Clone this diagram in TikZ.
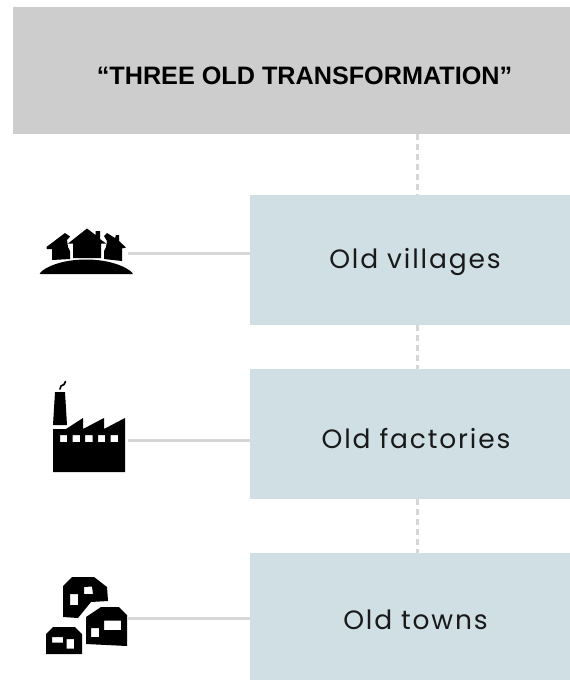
\documentclass[tikz,border=0pt]{standalone}
\usepackage{fontspec}
\setmainfont{Liberation Sans}
\newfontfamily\boxfont[LetterSpace=7]{Poppins}
\definecolor{bannerfill}{HTML}{CDCDCD}
\definecolor{boxfill}{HTML}{D0DFE3}
\definecolor{linkgrey}{HTML}{D6D6D6}
\tikzset{
  banner/.style={fill=bannerfill,draw=none,minimum width=557pt,minimum height=127pt,inner sep=0pt,outer sep=0pt},
  catbox/.style={fill=boxfill,draw=none,minimum width=320pt,minimum height=130pt,inner sep=0pt,outer sep=0pt},
  boxlabel/.style={font=\boxfont\fontsize{26.5}{31}\selectfont,text=black!90,inner sep=0pt},
  dashlink/.style={draw=linkgrey,line width=2.6pt,dash pattern=on 6pt off 4pt},
  leader/.style={draw=linkgrey,line width=3pt},
  icon/.style={fill=black,draw=none,even odd rule},
}
\begin{document}
\begin{tikzpicture}[x=1pt,y=-1pt]
\useasboundingbox (0,0) rectangle (570,680);
\fill[white] (0,0) rectangle (570,680);
\node[banner] (title) at (291.5,70.5) {};
\node[font=\bfseries\fontsize{25.2}{29}\selectfont,text=black,inner sep=0pt] (titletext) at (304.5,75.5) {“THREE OLD TRANSFORMATION”};
\node[catbox] (v) at (410,260) {};
\node[catbox] (f) at (410,434) {};
\node[catbox] (t) at (410,618) {};
\node[boxlabel] (vl) at (415,262) {Old villages};
\node[boxlabel] (fl) at (416,438) {Old factories};
\node[boxlabel] (tl) at (415.5,620) {Old towns};
\coordinate (vi) at (128,253);
\coordinate (fi) at (128,440);
\coordinate (ti) at (128,618);
\draw[dashlink] (417.5,134) -- (417.5,195);
\draw[dashlink] (417.5,325) -- (417.5,369);
\draw[dashlink] (417.5,499) -- (417.5,553);
\draw[leader] (vi) -- (v.west |- vi);
\draw[leader] (fi) -- (f.west |- fi);
\draw[leader] (ti) -- (t.west |- ti);
% village icon
\fill[icon] (40,273) .. controls (45,267) and (62,259.5) .. (86,259.5) .. controls (110,259.5) and (127,267) .. (132.5,273) .. controls (133,274.5) and (132.5,274) .. (131,274) -- (41,274) .. controls (40,274) and (39.5,274) .. (40,273) -- cycle;
\fill[icon] (73,258) -- (73,243.5) -- (68,243.5) -- (87,228.5) -- (95.5,235) -- (95.5,231) -- (100,231) -- (100,239) -- (106,243.5) -- (101,243.5) -- (101,258) -- cycle;
\fill[icon] (52,260) -- (52,249) -- (46.5,249) -- (46.5,247) -- (65,233) -- (70,236.5) -- (67,240) -- (68,247) -- (70,251) -- (70,259) -- cycle;
\fill[icon] (104,259) -- (104,251) -- (106,247) -- (107,241) -- (104,236) -- (107,233) -- (115,238) -- (116,235) -- (119,235) -- (119,241) -- (126,247.5) -- (122,248.5) -- (122,261) -- cycle;
% factory icon
\fill[icon] (53,425) -- (55,392) -- (65,392) -- (67,425) -- cycle;
\draw[line width=1.6pt,line cap=round] (60,389) -- (61,386) -- (64,384.5) -- (65.5,381.5);
\fill[icon] (53,472) -- (53,429) -- (66,429) -- (83,418) -- (83,429) -- (104,418) -- (104,429) -- (125,418) -- (125,472) -- cycle
 (60,435) rectangle (67,442)
 (72.5,435) rectangle (80,442)
 (85,435) rectangle (92.5,442)
 (98,435) rectangle (105,442)
 (110.5,435) rectangle (118,442);
% towns icon
\fill[icon] (63,617) -- (63,586) -- (72,577) -- (94,577) -- (107,587) -- (108,601) -- (91,602) -- (78,618) -- cycle
 (70,594) rectangle (78,605)
 (84,587) -- (92,586.5) -- (93,594) -- (84,594) -- cycle;
\fill[icon] (86,644) -- (86,617) -- (101,607) -- (119,607) -- (127,615) -- (127,646) -- cycle
 (91,628) rectangle (99,637)
 (104,620.5) rectangle (121,630);
\fill[icon] (46,654) -- (46,634) -- (53,627) -- (75,627) -- (82,634) -- (82,654) -- cycle
 (52,637) rectangle (63,642.5)
 (66.5,639) rectangle (74,648.5);
\end{tikzpicture}
\end{document}
